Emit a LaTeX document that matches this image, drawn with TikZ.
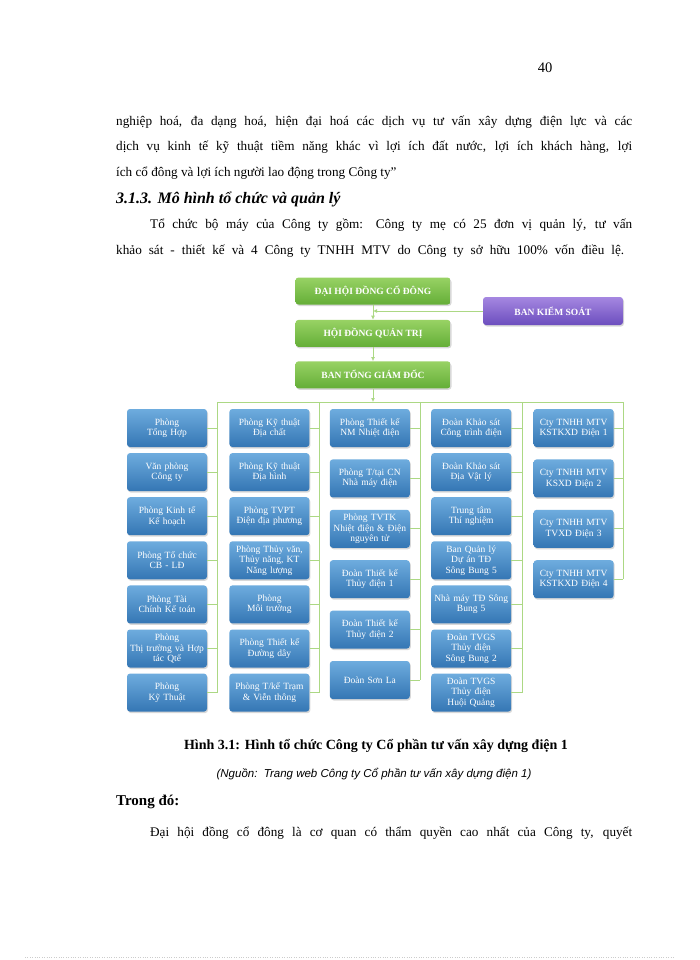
\documentclass[tikz,border=0pt]{standalone}
\usepackage{fontspec}
\setmainfont{Liberation Serif}
\newfontfamily\arialfont{Liberation Sans}
\usetikzlibrary{arrows.meta,positioning,shadows}
\definecolor{xanhtren}{RGB}{110,172,222}
\definecolor{xanhduoi}{RGB}{52,118,180}
\definecolor{luctren}{RGB}{152,210,100}
\definecolor{lucduoi}{RGB}{100,174,55}
\definecolor{timtren}{RGB}{165,135,225}
\definecolor{timduoi}{RGB}{108,78,190}
\definecolor{duongnoi}{RGB}{172,216,132}
\tikzset{
  phong/.style={rounded corners=3pt,top color=xanhtren,bottom color=xanhduoi,text=white,
                minimum width=80pt,minimum height=38pt,text width=78pt,inner sep=1pt,align=center,
                font=\fontsize{9.5}{10.5}\selectfont,
                drop shadow={shadow xshift=1pt,shadow yshift=-1.5pt,opacity=.3}},
  lanhdao/.style={rounded corners=3pt,top color=luctren,bottom color=lucduoi,text=white,
                  minimum width=155pt,minimum height=27pt,inner sep=1pt,align=center,
                  font=\fontsize{9.5}{11}\selectfont\bfseries,
                  drop shadow={shadow xshift=1pt,shadow yshift=-1.5pt,opacity=.3}},
  kiemsoat/.style={lanhdao,top color=timtren,bottom color=timduoi,minimum width=140pt,minimum height=28pt},
  noi/.style={draw=duongnoi,line width=0.8pt},
  muiten/.style={noi,-{Latex[length=4pt,width=4pt]}},
  vanban/.style={inner sep=0pt,font=\fontsize{13.2}{15}\selectfont},
}

\begin{document}
\begin{tikzpicture}[x=1pt,y=-1pt]
  \fill[white] (0,0) rectangle (700,960);
  \useasboundingbox (0,0) rectangle (700,960);
  % trang van ban
  \node[vanban,anchor=base,font=\fontsize{14.5}{16}\selectfont] (trang) at (545,73) {40};
  \node[vanban,anchor=base west] (dong1) at (116,126)
    {\makebox[516pt][s]{nghiệp hoá, đa dạng hoá, hiện đại hoá các dịch vụ tư vấn xây dựng điện lực và các}};
  \node[vanban,anchor=base west] (dong2) at (116,151)
    {\makebox[516pt][s]{dịch vụ kinh tế kỹ thuật tiềm năng khác vì lợi ích đất nước, lợi ích khách hàng, lợi}};
  \node[vanban,anchor=base west] (dong3) at (116,176) {ích cổ đông và lợi ích người lao động trong Công ty”};
  \node[vanban,anchor=base west,font=\fontsize{16}{18}\selectfont\bfseries\itshape] (muc) at (116,203)
    {3.1.3. Mô hình tổ chức và quản lý};
  \node[vanban,anchor=base west] (dong4) at (150,228)
    {\makebox[482pt][s]{Tổ chức bộ máy của Công ty gồm: Công ty mẹ có 25 đơn vị quản lý, tư vấn}};
  \node[vanban,anchor=base west] (dong5) at (116,254)
    {\makebox[508pt][s]{khảo sát - thiết kế và 4 Công ty TNHH MTV do Công ty sở hữu 100\% vốn điều lệ.}};

  % lanh dao
  \node[lanhdao] (dh) at (373,291) {ĐẠI HỘI ĐỒNG CỔ ĐÔNG};
  \node[lanhdao,below=15pt of dh] (hd) {HỘI ĐỒNG QUẢN TRỊ};
  \node[lanhdao,below=14pt of hd] (bt) {BAN TỔNG GIÁM ĐỐC};
  \node[kiemsoat] (bks) at (553,311) {BAN KIỂM SOÁT};

  % cot 1
  \node[phong] (p11) at (167,428) {Phòng\\Tổng Hợp};
  \node[phong,below=5.7pt of p11] (p12) {Văn phòng\\Công ty};
  \node[phong,below=5.7pt of p12] (p13) {Phòng Kinh tế\\Kế hoạch};
  \node[phong,below=5.7pt of p13] (p14) {Phòng Tổ chức\\CB - LĐ};
  \node[phong,below=5.7pt of p14] (p15) {Phòng Tài\\Chính Kế toán};
  \node[phong,below=5.7pt of p15] (p16) {Phòng\\Thị trường và Hợp\\tác Qtế};
  \node[phong,below=5.7pt of p16] (p17) {Phòng\\Kỹ Thuật};
  % cot 2
  \node[phong,right=22pt of p11] (p21) {Phòng Kỹ thuật\\Địa chất};
  \node[phong,below=5.7pt of p21] (p22) {Phòng Kỹ thuật\\Địa hình};
  \node[phong,below=5.7pt of p22] (p23) {Phòng TVPT\\Điện địa phương};
  \node[phong,below=5.7pt of p23] (p24) {Phòng Thủy văn,\\Thủy năng, KT\\Năng lượng};
  \node[phong,below=5.7pt of p24] (p25) {Phòng\\Môi trường};
  \node[phong,below=5.7pt of p25] (p26) {Phòng Thiết kế\\Đường dây};
  \node[phong,below=5.7pt of p26] (p27) {Phòng T/kế Trạm\\\& Viễn thông};
  % cot 3
  \node[phong,right=20pt of p21] (p31) {Phòng Thiết kế\\NM Nhiệt điện};
  \node[phong,below=12pt of p31] (p32) {Phòng T/tại CN\\Nhà máy điện};
  \node[phong,below=12pt of p32] (p33) {Phòng TVTK\\Nhiệt điện \& Điện\\nguyên tử};
  \node[phong,below=12pt of p33] (p34) {Đoàn Thiết kế\\Thủy điện 1};
  \node[phong,below=12pt of p34] (p35) {Đoàn Thiết kế\\Thủy điện 2};
  \node[phong,below=12pt of p35] (p36) {Đoàn Sơn La};
  % cot 4
  \node[phong,right=21pt of p31] (p41) {Đoàn Khảo sát\\Công trình điện};
  \node[phong,below=5.7pt of p41] (p42) {Đoàn Khảo sát\\Địa Vật lý};
  \node[phong,below=5.7pt of p42] (p43) {Trung tâm\\Thí nghiệm};
  \node[phong,below=5.7pt of p43] (p44) {Ban Quản lý\\Dự án TĐ\\Sông Bung 5};
  \node[phong,below=5.7pt of p44] (p45) {Nhà máy TĐ Sông\\Bung 5};
  \node[phong,below=5.7pt of p45] (p46) {Đoàn TVGS\\Thủy điện\\Sông Bung 2};
  \node[phong,below=5.7pt of p46] (p47) {Đoàn TVGS\\Thủy điện\\Huội Quảng};
  % cot 5
  \node[phong,right=22pt of p41] (p51) {Cty TNHH MTV\\KSTKXD Điện 1};
  \node[phong,below=12pt of p51] (p52) {Cty TNHH MTV\\KSXD Điện 2};
  \node[phong,below=12pt of p52] (p53) {Cty TNHH MTV\\TVXD Điện 3};
  \node[phong,below=12pt of p53] (p54) {Cty TNHH MTV\\KSTKXD Điện 4};

  % duong noi
  \coordinate (tuc1) at (217,402);
  \coordinate (tuc2) at (319,402);
  \coordinate (tuc3) at (420,402);
  \coordinate (tuc4) at (522,402);
  \coordinate (tuc5) at (623,402);
  \draw[muiten] (dh) -- (hd);
  \draw[muiten] (hd) -- (bt);
  \draw[muiten] (bks.west) -- (bks.west -| dh.south);
  \draw[noi] (tuc1) -- (tuc5);
  \draw[muiten] (bt) -- (bt.south |- tuc1);
  \draw[noi] (tuc1) -- (tuc1 |- p17.east)
    (p11.east) -- (p11.east -| tuc1) (p12.east) -- (p12.east -| tuc1) (p13.east) -- (p13.east -| tuc1)
    (p14.east) -- (p14.east -| tuc1) (p15.east) -- (p15.east -| tuc1) (p16.east) -- (p16.east -| tuc1)
    (p17.east) -- (p17.east -| tuc1);
  \draw[noi] (tuc2) -- (tuc2 |- p27.east)
    (p21.east) -- (p21.east -| tuc2) (p22.east) -- (p22.east -| tuc2) (p23.east) -- (p23.east -| tuc2)
    (p24.east) -- (p24.east -| tuc2) (p25.east) -- (p25.east -| tuc2) (p26.east) -- (p26.east -| tuc2)
    (p27.east) -- (p27.east -| tuc2);
  \draw[noi] (tuc3) -- (tuc3 |- p36.east)
    (p31.east) -- (p31.east -| tuc3) (p32.east) -- (p32.east -| tuc3) (p33.east) -- (p33.east -| tuc3)
    (p34.east) -- (p34.east -| tuc3) (p35.east) -- (p35.east -| tuc3) (p36.east) -- (p36.east -| tuc3);
  \draw[noi] (tuc4) -- (tuc4 |- p47.east)
    (p41.east) -- (p41.east -| tuc4) (p42.east) -- (p42.east -| tuc4) (p43.east) -- (p43.east -| tuc4)
    (p44.east) -- (p44.east -| tuc4) (p45.east) -- (p45.east -| tuc4) (p46.east) -- (p46.east -| tuc4)
    (p47.east) -- (p47.east -| tuc4);
  \draw[noi] (tuc5) -- (tuc5 |- p54.east)
    (p51.east) -- (p51.east -| tuc5) (p52.east) -- (p52.east -| tuc5) (p53.east) -- (p53.east -| tuc5)
    (p54.east) -- (p54.east -| tuc5);

  % chu thich
  \node[vanban,anchor=base,font=\fontsize{14}{16}\selectfont\bfseries] (hinh) at (376,749)
    {Hình 3.1: Hình tổ chức Công ty Cổ phần tư vấn xây dựng điện 1};
  \node[vanban,anchor=base,font=\fontsize{11.5}{13}\arialfont\itshape] (nguon) at (374,777)
    {(Nguồn:\ \ Trang web Công ty Cổ phần tư vấn xây dựng điện 1)};
  \node[vanban,anchor=base west,font=\fontsize{15}{17}\selectfont\bfseries] (trongdo) at (116,805) {Trong đó:};
  \node[vanban,anchor=base west] (dong6) at (150,836)
    {\makebox[482pt][s]{Đại hội đồng cổ đông là cơ quan có thẩm quyền cao nhất của Công ty, quyết}};
  \draw[gray!40,dotted] (25,957) -- (675,957);
\end{tikzpicture}
\end{document}
